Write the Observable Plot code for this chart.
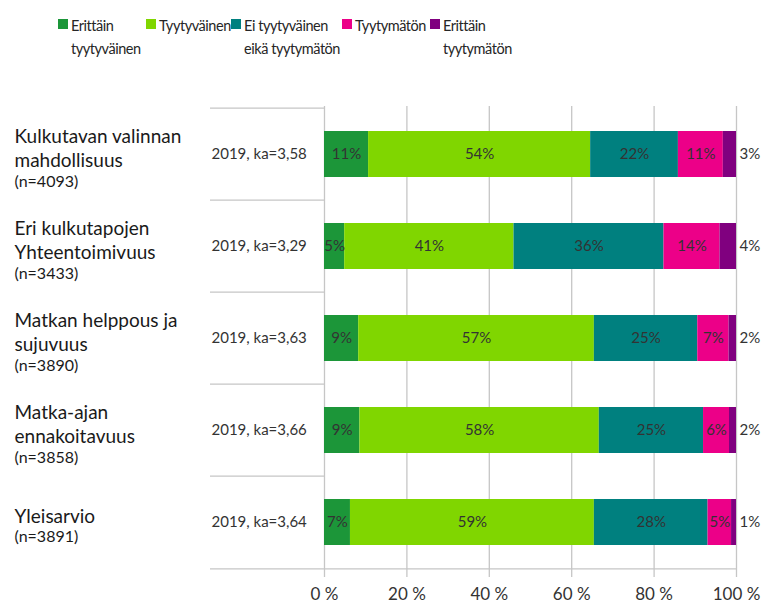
<!DOCTYPE html>
<html>
<head>
<meta charset="utf-8">
<script src="https://cdn.jsdelivr.net/npm/d3@7"></script>
<script src="https://cdn.jsdelivr.net/npm/@observablehq/plot@0.6"></script>
<style>
  html, body { margin: 0; padding: 0; background: #fff; }
  body { width: 763px; height: 604px; overflow: hidden; font-family: Lato, "Open Sans", sans-serif; }
  #legend { position: relative; height: 70px; display: flex; padding-left: 58px; box-sizing: border-box; }
  .item { display: flex; flex: none; align-items: flex-start; padding-top: 14px; }
  .item .sw { width: 10px; height: 10px; margin-top: 5px; margin-right: 3px; flex: none; }
  .item .lb { font-size: 14.5px; letter-spacing: -0.45px; line-height: 23px; color: #262626; white-space: pre; }
  .item:nth-child(1) { width: 88px; }
  .item:nth-child(2) { width: 85px; }
  .item:nth-child(3) { width: 111px; }
  .item:nth-child(4) { width: 88px; }
</style>
</head>
<body>
<div id="legend"></div>
<div id="chart"></div>
<script>
// ---- data ----
const categories = [
  "Kulkutavan valinnan mahdollisuus",
  "Eri kulkutapojen Yhteentoimivuus",
  "Matkan helppous ja sujuvuus",
  "Matka-ajan ennakoitavuus",
  "Yleisarvio"
];
const categoryLines = [
  "Kulkutavan valinnan\nmahdollisuus",
  "Eri kulkutapojen\nYhteentoimivuus",
  "Matkan helppous ja\nsujuvuus",
  "Matka-ajan\nennakoitavuus",
  "Yleisarvio"
];
const nLabels = ["(n=4093)", "(n=3433)", "(n=3890)", "(n=3858)", "(n=3891)"];
const kaLabels = ["2019, ka=3,58", "2019, ka=3,29", "2019, ka=3,63", "2019, ka=3,66", "2019, ka=3,64"];

const series = [
  "Erittäin tyytyväinen",
  "Tyytyväinen",
  "Ei tyytyväinen eikä tyytymätön",
  "Tyytymätön",
  "Erittäin tyytymätön"
];
const legendLabels = [
  "Erittäin\ntyytyväinen",
  "Tyytyväinen",
  "Ei tyytyväinen\neikä tyytymätön",
  "Tyytymätön",
  "Erittäin\ntyytymätön"
];
const seriesColors = ["#1c9639", "#80d600", "#00807f", "#ec0088", "#80007f"];

// bar lengths (percent) per series, one value per category
const erittainTyytyvainen = [10.7, 4.9, 8.3, 8.6, 6.3];
const tyytyvainen         = [53.9, 41.1, 57.2, 58.1, 59.2];
const eiTyytyvainenEika   = [21.3, 36.4, 25.1, 25.3, 27.6];
const tyytymaton          = [10.9, 13.6, 7.6, 6.3, 5.7];
const erittainTyytymaton  = [3.2, 4.0, 1.8, 1.7, 1.2];

// printed percentage labels
const labelsErittainTyytyvainen = [11, 5, 9, 9, 7];
const labelsTyytyvainen         = [54, 41, 57, 58, 59];
const labelsEiTyytyvainenEika   = [22, 36, 25, 25, 28];
const labelsTyytymaton          = [11, 14, 7, 6, 5];
const labelsErittainTyytymaton  = [3, 4, 2, 2, 1];

const xTicks = [0, 20, 40, 60, 80, 100];

// ---- build tables ----
const valueSets = [erittainTyytyvainen, tyytyvainen, eiTyytyvainenEika, tyytymaton, erittainTyytymaton];
const labelSets = [labelsErittainTyytyvainen, labelsTyytyvainen, labelsEiTyytyvainenEika, labelsTyytymaton, labelsErittainTyytymaton];
const lastSeries = series[series.length - 1];
const rows = [];
categories.forEach((c, i) => {
  series.forEach((s, j) => {
    rows.push({cat: c, series: s, value: valueSets[j][i], label: labelSets[j][i] + "%"});
  });
});
const cats = categories.map((c, i) => ({
  cat: c, main: categoryLines[i], n: nLabels[i], ka: kaLabels[i],
  lines: categoryLines[i].split("\n").length
}));

// ---- legend ----
const legend = document.getElementById("legend");
series.forEach((s, j) => {
  const it = document.createElement("div");
  it.className = "item";
  it.innerHTML = `<span class="sw" style="background:${seriesColors[j]}"></span><span class="lb"></span>`;
  it.querySelector(".lb").textContent = legendLabels[j];
  legend.appendChild(it);
});

// ---- chart ----
const W = 763, H = 534, mT = 36, mB = 34, mL = 324, mR = 27;
const step = (H - mT - mB) / categories.length;
const gridColor = "#c6c6c6";
const font = "Lato, 'Open Sans', sans-serif";

const chart = Plot.plot({
  width: W,
  height: H,
  marginTop: mT,
  marginBottom: mB,
  marginLeft: mL,
  marginRight: mR,
  style: {fontFamily: font, background: "#fff"},
  x: {domain: [0, 100], axis: null, label: null},
  y: {domain: categories, paddingInner: 0.5, paddingOuter: 0.25, axis: null},
  color: {domain: series, range: seriesColors},
  marks: [
    // vertical grid lines, extended below the axis as tick marks
    Plot.ruleX(xTicks, {stroke: gridColor, strokeWidth: 1.3, insetBottom: -7}),
    // row separators in the label column
    Plot.ruleY(categories, {y: d => d, x1: 0, x2: 0, insetLeft: -114, dy: -step / 2, stroke: gridColor, strokeWidth: 1.3}),
    // bottom axis line
    Plot.ruleY(categories.slice(-1), {y: d => d, x1: 0, x2: 100, insetLeft: -114, dy: step / 2, stroke: gridColor, strokeWidth: 1.3}),
    // bars
    Plot.barX(rows, Plot.stackX({x: "value", y: "cat", fill: "series"})),
    // inside labels
    Plot.text(rows, Plot.stackX({
      x: "value", y: "cat",
      text: d => d.series === lastSeries ? null : d.label,
      fill: "#333", fontSize: 15
    })),
    // outside labels (last series)
    Plot.text(rows, Plot.stackX2({
      x: "value", y: "cat",
      text: d => d.series === lastSeries ? d.label : null,
      textAnchor: "start", dx: 3, fill: "#333", fontSize: 15
    })),
    // category labels
    Plot.text(cats, {
      y: "cat", text: "main", frameAnchor: "left", dx: -310, dy: -7,
      textAnchor: "start", lineAnchor: "middle", lineHeight: 24 / 19,
      fontSize: 19, fill: "#1a1a1a"
    }),
    Plot.text(cats.filter(d => d.lines > 1), {
      y: "cat", text: "n", frameAnchor: "left", dx: -310, dy: 27,
      textAnchor: "start", lineAnchor: "middle", fontSize: 16, fill: "#1a1a1a"
    }),
    Plot.text(cats.filter(d => d.lines === 1), {
      y: "cat", text: "n", frameAnchor: "left", dx: -310, dy: 14,
      textAnchor: "start", lineAnchor: "middle", fontSize: 16, fill: "#1a1a1a"
    }),
    Plot.text(cats, {
      y: "cat", text: "ka", frameAnchor: "left", dx: -113,
      textAnchor: "start", lineAnchor: "middle", fontSize: 15, fill: "#333"
    }),
    // x axis labels
    Plot.axisX(xTicks, {
      tickSize: 0, tickPadding: 17, fontSize: 17, color: "#333", label: null,
      tickFormat: d => d + " %"
    })
  ]
});
document.getElementById("chart").appendChild(chart);
</script>
</body>
</html>
